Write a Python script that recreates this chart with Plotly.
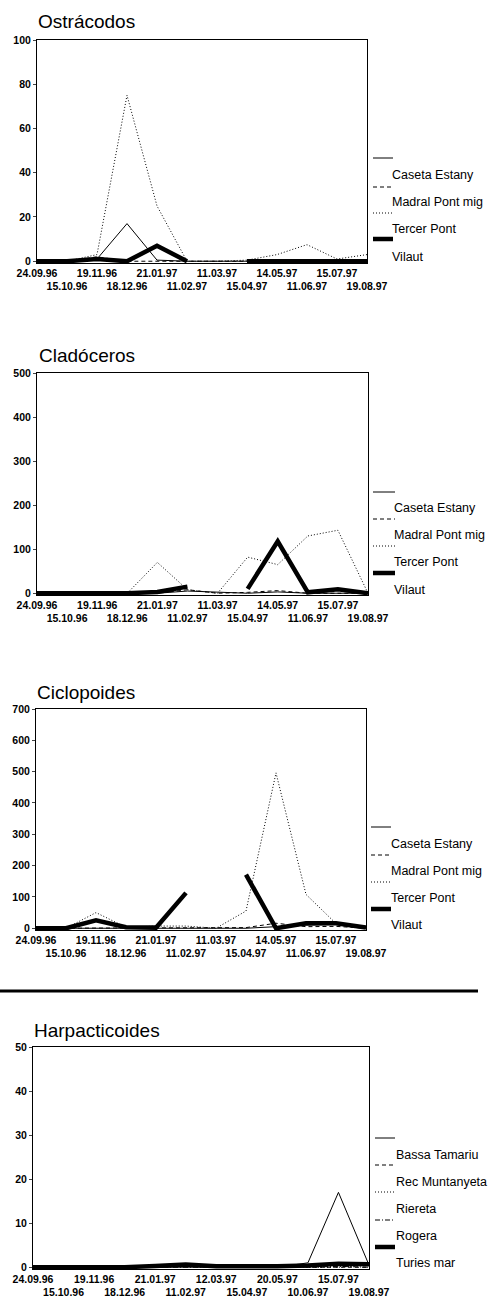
import plotly.graph_objects as go

W, H = 488, 1298

DATES_A = ["24.09.96", "15.10.96", "19.11.96", "18.12.96", "21.01.97", "11.02.97",
           "11.03.97", "15.04.97", "14.05.97", "11.06.97", "15.07.97", "19.08.97"]
DATES_B = ["24.09.96", "15.10.96", "19.11.96", "18.12.96", "21.01.97", "11.02.97",
           "12.03.97", "15.04.97", "20.05.97", "10.06.97", "15.07.97", "19.08.97"]

SITES_A = ["Caseta Estany", "Madral Pont mig", "Tercer Pont", "Vilaut"]
SITES_B = ["Bassa Tamariu", "Rec Muntanyeta", "Riereta", "Rogera", "Turies mar"]

# Ostrácodos
ostr_caseta = [0, 0, 1, 17, 0.5, 0, 0, 0, 0, 0, 0, 0]
ostr_madral = [0, 0, 2, 0, 0, 0, 0, 0, 0, 0, 0, 0]
ostr_tercer = [0, 0, 3, 75, 25, 0, 0, 0.5, 3, 7.5, 1, 3]
ostr_vilaut = [0, 0, 1, 0, 7, 0, None, 0, 0, 0, 0, 0]

# Cladóceros
clad_caseta = [0, 0, 0, 0, 0, 5, 2, 0, 3, 0, 0, 0]
clad_madral = [0, 0, 0, 0, 0, 8, 0, 2, 6, 0, 0, 0]
clad_tercer = [0, 0, 0, 0, 70, 8, 0, 82, 65, 130, 143, 0]
clad_vilaut = [0, 0, 0, 0, 3, 15, None, 10, 118, 2, 9, 0]

# Ciclopoides
cicl_caseta = [0, 0, 0, 0, 0, 0, 0, 0, 5, 10, 12, 3]
cicl_madral = [0, 0, 0, 0, 0, 0, 0, 2, 16, 5, 6, 0]
cicl_tercer = [0, 0, 50, 3, 7, 7, 0, 55, 496, 108, 15, 5]
cicl_vilaut = [0, 0, 25, 3, 2, 113, None, 171, 0, 16, 16, 2]

# Harpacticoides
harp_bassa = [0, 0, 0, 0, 0, 0, 0, 0, 0, 1, 17, 0.5]
harp_rec = [0, 0, 0, 0, 0, 0.2, 0, 0, 0, 0, 0, 0]
harp_riereta = [0, 0, 0, 0, 0, 0.3, 0, 0, 0, 0, 0, 0.5]
harp_rogera = [0, 0, 0, 0, 0, 0, 0, 0, 0, 0, 0.2, 0]
harp_turies = [0, 0, 0, 0, 0.3, 0.6, 0.2, 0.1, 0.2, 0.4, 0.8, 0.7]

SOLID, DASHED, DOTTED, DASHDOT = "solid", "4px,3px", "1px,2px", "5px,2px,1px,2px"
STYLES_A = [(1, SOLID), (1, DASHED), (1, DOTTED), (4.5, SOLID)]
STYLES_B = [(1, SOLID), (1, DASHED), (1, DOTTED), (1, DASHDOT), (4.5, SOLID)]

PANELS = [
    dict(title="Ostrácodos", dates=DATES_A, sites=SITES_A, styles=STYLES_A,
         series=[ostr_caseta, ostr_madral, ostr_tercer, ostr_vilaut],
         ymax=100, dtick=20, box=(37, 367, 40, 263), title_xy=(36, 22),
         leg_x=(373, 393, 390), leg_line_y=[158, 187, 213, 239], leg_text_y=[175, 202, 229, 257]),
    dict(title="Cladóceros", dates=DATES_A, sites=SITES_A, styles=STYLES_A,
         series=[clad_caseta, clad_madral, clad_tercer, clad_vilaut],
         ymax=500, dtick=100, box=(37, 368, 373, 595), title_xy=(37, 355),
         leg_x=(373, 395, 392), leg_line_y=[492, 519, 546, 573], leg_text_y=[508, 535, 562, 590]),
    dict(title="Ciclopoides", dates=DATES_A, sites=SITES_A, styles=STYLES_A,
         series=[cicl_caseta, cicl_madral, cicl_tercer, cicl_vilaut],
         ymax=700, dtick=100, box=(36, 366, 709, 930), title_xy=(35, 692),
         leg_x=(371, 391, 389), leg_line_y=[827, 855, 882, 909], leg_text_y=[844, 871, 898, 925]),
    dict(title="Harpacticoides", dates=DATES_B, sites=SITES_B, styles=STYLES_B,
         series=[harp_bassa, harp_rec, harp_riereta, harp_rogera, harp_turies],
         ymax=50, dtick=10, box=(33, 369, 1047, 1269), title_xy=(32, 1030),
         leg_x=(375, 395, 394), leg_line_y=[1138, 1165, 1192, 1220, 1247],
         leg_text_y=[1155, 1182, 1209, 1236, 1263]),
]

FONT = "Liberation Sans, Arial, sans-serif"


def px_x(v):
    return v / W


def px_y(v):
    return 1 - v / H


fig = go.Figure()
layout = dict(
    width=W, height=H, margin=dict(l=0, r=0, t=0, b=0, autoexpand=False),
    paper_bgcolor="white", plot_bgcolor="white", showlegend=False,
    font=dict(family=FONT, color="black"),
)
shapes = []
annotations = []

for i, p in enumerate(PANELS, start=1):
    xa = "x" if i == 1 else f"x{i}"
    ya = "y" if i == 1 else f"y{i}"
    x0, x1, y0, y1 = p["box"]
    for name, vals, (lw, dash) in zip(p["sites"], p["series"], p["styles"]):
        fig.add_trace(go.Scatter(
            x=p["dates"], y=vals, name=name, mode="lines", xaxis=xa, yaxis=ya,
            line=dict(color="black", width=lw, dash=dash), connectgaps=False,
        ))
    ticktext = [d if k % 2 == 0 else "<br>" + d for k, d in enumerate(p["dates"])]
    pad = p["ymax"] * 0.008
    layout["xaxis" if i == 1 else f"xaxis{i}"] = dict(
        domain=[px_x(x0), px_x(x1)], anchor=ya, type="category", automargin=False,
        range=[0, len(p["dates"]) - 1], tickvals=p["dates"], ticktext=ticktext,
        tickangle=0, showgrid=False, zeroline=False, showline=True, mirror=True,
        linecolor="black", linewidth=1, ticks="",
        tickfont=dict(family=FONT, size=10.5, color="black", weight="bold"),
    )
    layout["yaxis" if i == 1 else f"yaxis{i}"] = dict(
        domain=[px_y(y1), px_y(y0)], anchor=xa, range=[-pad, p["ymax"]], automargin=False,
        tick0=0, dtick=p["dtick"], showgrid=False, zeroline=False, showline=True,
        mirror=True, linecolor="black", linewidth=1, ticks="outside", ticklen=3,
        tickfont=dict(family=FONT, size=10.5, color="black", weight="bold"),
    )
    tx, ty = p["title_xy"]
    annotations.append(dict(
        text=p["title"], x=px_x(tx), y=px_y(ty), xref="paper", yref="paper",
        xanchor="left", yanchor="middle", showarrow=False,
        font=dict(family=FONT, size=19, color="black"),
    ))
    lx0, lx1, ltx = p["leg_x"]
    for name, (lw, dash), ly, lty in zip(p["sites"], p["styles"], p["leg_line_y"], p["leg_text_y"]):
        shapes.append(dict(
            type="line", xref="paper", yref="paper",
            x0=px_x(lx0), x1=px_x(lx1), y0=px_y(ly), y1=px_y(ly),
            line=dict(color="black", width=lw, dash=dash),
        ))
        annotations.append(dict(
            text=name, x=px_x(ltx), y=px_y(lty), xref="paper", yref="paper",
            xanchor="left", yanchor="middle", showarrow=False,
            font=dict(family=FONT, size=12.5, color="black"),
        ))

# separator rule above the last panel
shapes.append(dict(type="line", xref="paper", yref="paper",
                   x0=0, x1=px_x(478), y0=px_y(991), y1=px_y(991),
                   line=dict(color="black", width=3)))

layout["shapes"] = shapes
layout["annotations"] = annotations
fig.update_layout(**layout)

# drop the browser's default body margin so the figure sits at the page origin
fig.write_html("out.html", config={"displayModeBar": False},
               post_script="document.body.style.margin='0';document.body.style.overflow='hidden';")
